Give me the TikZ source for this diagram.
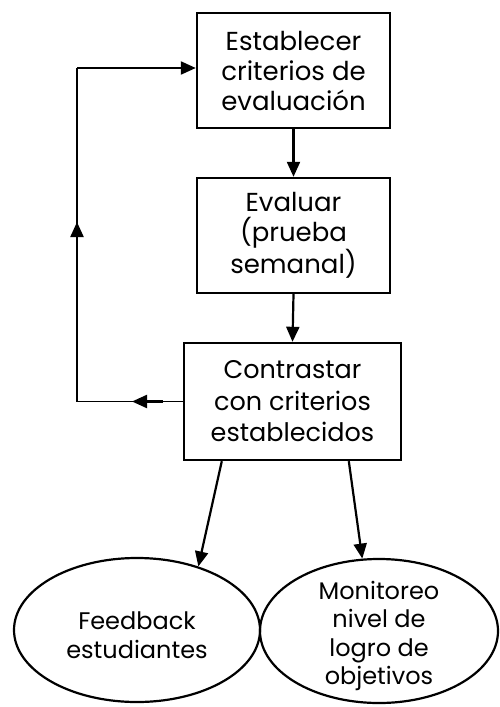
\documentclass[tikz,border=0pt]{standalone}
\usepackage{fontspec}
\setmainfont{Poppins}
\usetikzlibrary{shapes.geometric,arrows.meta}
\begin{document}
\begin{tikzpicture}[x=1pt,y=-1pt,
  boxstyle/.style={draw,line width=2.4pt,inner sep=0pt,align=center},
  ellstyle/.style={draw,ellipse,line width=2.2pt,inner sep=0pt},
  etext/.style={align=center,font=\fontsize{24}{28.5}\selectfont},
  arr/.style={line width=2.2pt,-{Triangle[length=15pt,width=13pt]}},
  thin/.style={line width=1.1pt}]
\useasboundingbox (0,0) rectangle (499,707);
\node[boxstyle,minimum width=193pt,minimum height=115pt,font=\fontsize{26}{30}\selectfont] (b1) at (293.5,70.5) {Establecer\\criterios de\\evaluación};
\node[boxstyle,minimum width=193pt,minimum height=115pt,font=\fontsize{26}{30}\selectfont] (b2) at (293.5,235.5) {Evaluar\\(prueba\\semanal)};
\node[boxstyle,minimum width=217pt,minimum height=117pt,font=\fontsize{25.5}{31.5}\selectfont] (b3) at (292.5,401.5) {Contrastar\\con criterios\\establecidos};
\node[ellstyle,minimum width=246pt,minimum height=144pt] (fb) at (137,630) {};
\node[etext] (fbt) at ([yshift=-5pt]fb.center) {Feedback\\estudiantes};
\node[ellstyle,minimum width=238pt,minimum height=144pt] (mo) at (379,631) {};
\node[etext] (mot) at ([yshift=-5pt]mo.center) {Monitoreo\\nivel de\\logro de\\objetivos};
\draw[arr] (b1.south) -- (b2.north);
\draw[arr] (b2.south) -- (b3.north);
\draw[arr] ([xshift=39pt]b3.south west) -- (fb.46);
\draw[arr] ([xshift=166pt]b3.south west) -- (mo.103);
\coordinate (cbl) at (77,401.5);
\coordinate (ctl) at (77,68);
\coordinate (ab0) at (163,401.5);
\coordinate (ab1) at (132,401.5);
\coordinate (au0) at (77,257);
\coordinate (au1) at (77,222);
\draw[thin] (b3.west) -- (cbl) -- (ctl);
\draw[arr] (ctl) -- (ctl -| b1.west);
\draw[arr] (ab0) -- (ab1);
\draw[arr] (au0) -- (au1);
\end{tikzpicture}
\end{document}
